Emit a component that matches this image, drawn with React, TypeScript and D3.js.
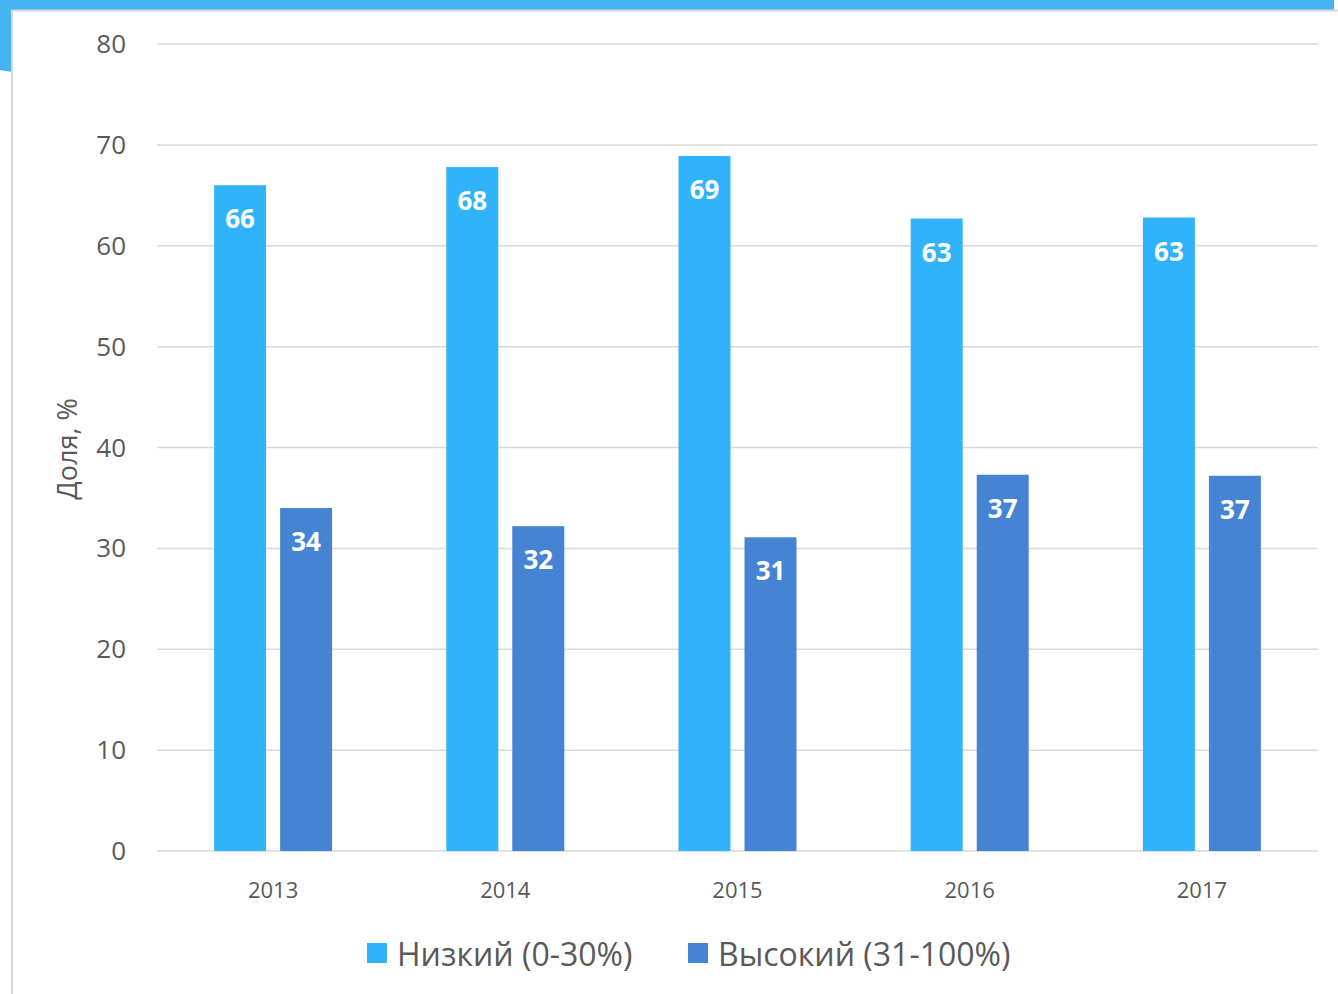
import React from "react";
import * as d3 from "d3";

const years = ["2013", "2014", "2015", "2016", "2017"];
const lowValues = [66, 67.8, 68.9, 62.7, 62.8];
const highValues = [34, 32.2, 31.1, 37.3, 37.2];
const seriesNames = ["Низкий (0-30%)", "Высокий (31-100%)"];
const seriesColors = ["#31b3fb", "#4584d3"];
const yTicks = [0, 10, 20, 30, 40, 50, 60, 70, 80];
const yTitle = "Доля, %";

const W = 1338;
const H = 994;
const FONT = "'Open Sans', 'Noto Sans', sans-serif";
const TEXT = "#595959";

export default function App() {
  const left = 157, right = 1318, top = 44, bottom = 851;
  const x0 = d3.scaleBand<string>().domain(years).range([left, right]).paddingInner(0).paddingOuter(0);
  const y = d3.scaleLinear().domain([0, 80]).range([bottom, top]);
  const barW = 52;
  const gap = 14;
  const series = [lowValues, highValues];

  return (
    <svg width={W} height={H} style={{ position: "absolute", left: 0, top: 0, background: "#fff" }}>
      {/* frame decoration */}
      <rect x={0} y={0} width={1334} height={10} fill="#45b4ef" />
      <polygon points="0,0 12,0 12,72 0,70" fill="#45b4ef" />
      <rect x={11} y={10} width={1327} height={H - 10} fill="#fff" />
      <line x1={12} y1={10.5} x2={1338} y2={10.5} stroke="#d9d9d9" strokeWidth={2} />
      <line x1={12} y1={10} x2={12} y2={H} stroke="#d9d9d9" strokeWidth={2} />

      {yTicks.map((t) => (
        <g key={t}>
          <line x1={left} x2={right} y1={y(t)} y2={y(t)} stroke="#d9d9d9" strokeWidth={1.5} />
          <text x={126} y={y(t) + 9} textAnchor="end" fontFamily={FONT} fontSize={26} fill={TEXT}>
            {t}
          </text>
        </g>
      ))}

      <text
        transform={`translate(77,${449}) rotate(-90)`}
        textAnchor="middle"
        fontFamily={FONT}
        fontSize={27}
        fill={TEXT}
      >
        {yTitle}
      </text>

      {years.map((yr, i) => {
        const cx = (x0(yr) as number) + x0.bandwidth() / 2;
        return (
          <g key={yr}>
            {series.map((vals, s) => {
              const bx = s === 0 ? cx - gap / 2 - barW : cx + gap / 2;
              const v = vals[i];
              return (
                <g key={s}>
                  <rect x={bx} y={y(v)} width={barW} height={bottom - y(v)} fill={seriesColors[s]} />
                  <text
                    x={bx + barW / 2}
                    y={y(v) + 43}
                    textAnchor="middle"
                    fontFamily={FONT}
                    fontWeight={700}
                    fontSize={26}
                    fill="#fff"
                  >
                    {d3.format(".0f")(v)}
                  </text>
                </g>
              );
            })}
            <text x={cx} y={898} textAnchor="middle" fontFamily={FONT} fontSize={22} fill={TEXT}>
              {yr}
            </text>
          </g>
        );
      })}

      {seriesNames.map((name, s) => {
        const lx = s === 0 ? 367 : 688;
        return (
          <g key={name}>
            <rect x={lx} y={943} width={20} height={20} fill={seriesColors[s]} />
            <text x={lx + 30} y={966} fontFamily={FONT} fontSize={32} fill={TEXT}>
              {name}
            </text>
          </g>
        );
      })}
    </svg>
  );
}
